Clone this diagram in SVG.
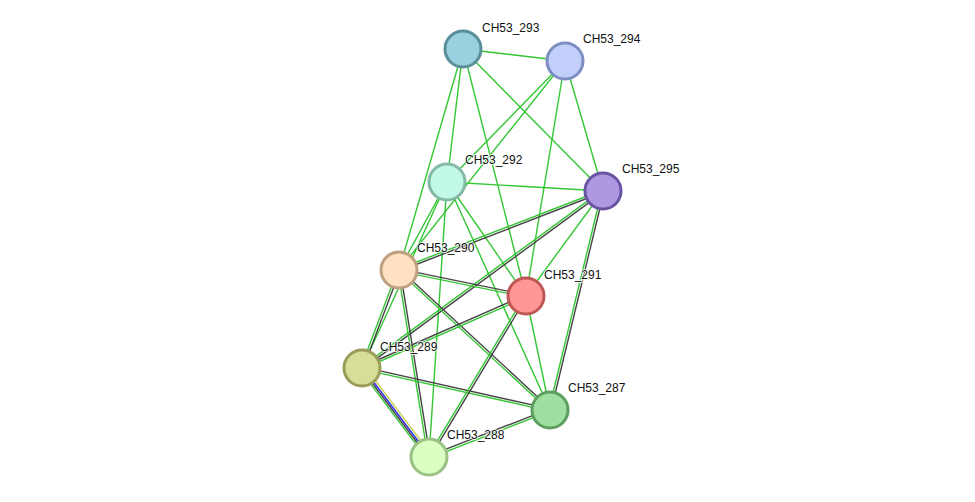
<svg xmlns="http://www.w3.org/2000/svg" width="975" height="502" viewBox="0 0 975 502">
<style>
.g{stroke:#33c733;stroke-width:1.4;fill:none}
.k{stroke:#444;stroke-width:1.4;fill:none}
.b{stroke:#2b2bee;stroke-width:1.4;fill:none}
.y{stroke:#c8cc44;stroke-width:1.4;fill:none}
.n{stroke-width:3}
.t{font-family:"Liberation Sans",Arial,sans-serif;font-size:12px;fill:#111;stroke:#fff;stroke-width:2;stroke-opacity:0.8;paint-order:stroke}
</style>
<rect width="975" height="502" fill="#fff"/>
<g id="edges">
<line class="g" x1="463" y1="49" x2="565" y2="61"/>
<line class="g" x1="463" y1="49" x2="447" y2="182"/>
<line class="g" x1="463" y1="49" x2="399" y2="270"/>
<line class="g" x1="463" y1="49" x2="526" y2="296"/>
<line class="g" x1="463" y1="49" x2="603" y2="191"/>
<line class="g" x1="565" y1="61" x2="447" y2="182"/>
<line class="g" x1="565" y1="61" x2="399" y2="270"/>
<line class="g" x1="565" y1="61" x2="526" y2="296"/>
<line class="g" x1="565" y1="61" x2="603" y2="191"/>
<line class="g" x1="447" y1="182" x2="603" y2="191"/>
<line class="g" x1="447" y1="182" x2="399" y2="270"/>
<line class="g" x1="447" y1="182" x2="526" y2="296"/>
<line class="g" x1="447" y1="182" x2="550" y2="410"/>
<line class="g" x1="447" y1="182" x2="362" y2="368"/>
<line class="g" x1="447" y1="182" x2="429" y2="457"/>
<line class="g" x1="603" y1="191" x2="526" y2="296"/>
<line class="g" x1="526" y1="296" x2="550" y2="410"/>
<!-- pairs -->
<line class="g" x1="602.6" y1="190" x2="398.6" y2="269"/>
<line class="k" x1="603.4" y1="192" x2="399.4" y2="271"/>
<line class="g" x1="602.35" y1="190.11" x2="361.35" y2="367.11"/>
<line class="k" x1="603.65" y1="191.89" x2="362.65" y2="368.89"/>
<line class="g" x1="601.93" y1="190.74" x2="548.93" y2="409.74"/>
<line class="k" x1="604.07" y1="191.26" x2="551.07" y2="410.26"/>
<line class="g" x1="398.78" y1="271.08" x2="525.78" y2="297.08"/>
<line class="k" x1="399.22" y1="268.92" x2="526.22" y2="294.92"/>
<line class="g" x1="398.25" y1="270.81" x2="549.25" y2="410.81"/>
<line class="k" x1="399.75" y1="269.19" x2="550.75" y2="409.19"/>
<line class="g" x1="397.91" y1="270.17" x2="427.91" y2="457.17"/>
<line class="k" x1="400.09" y1="269.83" x2="430.09" y2="456.83"/>
<line class="g" x1="397.97" y1="269.61" x2="360.97" y2="367.61"/>
<line class="k" x1="400.03" y1="270.39" x2="363.03" y2="368.39"/>
<line class="g" x1="362.44" y1="369.01" x2="526.44" y2="297.01"/>
<line class="k" x1="361.56" y1="366.99" x2="525.56" y2="294.99"/>
<line class="g" x1="361.76" y1="369.07" x2="549.76" y2="411.07"/>
<line class="k" x1="362.24" y1="366.93" x2="550.24" y2="408.93"/>
<line class="g" x1="525.06" y1="295.43" x2="428.06" y2="456.43"/>
<line class="k" x1="526.94" y1="296.57" x2="429.94" y2="457.57"/>
<line class="g" x1="550.4" y1="411.03" x2="429.4" y2="458.03"/>
<line class="k" x1="549.6" y1="408.97" x2="428.6" y2="455.97"/>
<!-- 289-288 multi -->
<line class="g" x1="359.84" y1="369.62" x2="426.84" y2="458.62"/>
<line class="k" x1="361.28" y1="368.54" x2="428.28" y2="457.54"/>
<line class="b" x1="362.72" y1="367.46" x2="429.72" y2="456.46"/>
<line class="y" x1="364.56" y1="366.08" x2="431.56" y2="455.08"/>
</g>
<g id="CH53_293"><circle class="n" cx="463" cy="49" r="18" fill="#99d1de" stroke="#5a8e9a"/><text class="t" x="482" y="32">CH53_293</text></g>
<g id="CH53_294"><circle class="n" cx="565" cy="61" r="18" fill="#c1cffa" stroke="#7d8ec3"/><text class="t" x="583" y="43">CH53_294</text></g>
<g id="CH53_292"><circle class="n" cx="447" cy="182" r="18" fill="#c2f8e7" stroke="#84b9a6"/><text class="t" x="465" y="164">CH53_292</text></g>
<g id="CH53_295"><circle class="n" cx="603" cy="191" r="18" fill="#ae98e0" stroke="#6953a3"/><text class="t" x="622" y="173">CH53_295</text></g>
<g id="CH53_290"><circle class="n" cx="399" cy="270" r="18" fill="#fee1c1" stroke="#bfa07f"/><text class="t" x="417" y="252">CH53_290</text></g>
<g id="CH53_291"><circle class="n" cx="526" cy="296" r="18" fill="#ff9696" stroke="#c05757"/><text class="t" x="544" y="279">CH53_291</text></g>
<g id="CH53_289"><circle class="n" cx="362" cy="368" r="18" fill="#d8dd99" stroke="#9a9d5a"/><text class="t" x="380" y="351">CH53_289</text></g>
<g id="CH53_287"><circle class="n" cx="550" cy="410" r="18" fill="#9fe0a0" stroke="#5e9f60"/><text class="t" x="568" y="392">CH53_287</text></g>
<g id="CH53_288"><circle class="n" cx="429" cy="457" r="18" fill="#d9ffc2" stroke="#99c184"/><text class="t" x="447" y="439">CH53_288</text></g>
</svg>
